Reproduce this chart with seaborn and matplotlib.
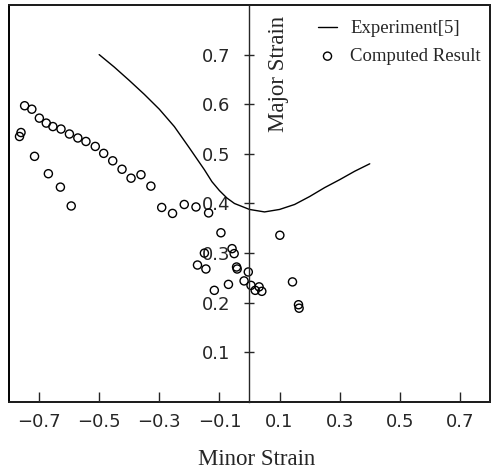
import matplotlib
matplotlib.use("Agg")
import matplotlib.pyplot as plt
import seaborn as sns
import pandas as pd

sns.set_style("ticks")
plt.rcParams["font.family"] = ["DejaVu Sans"]

# experiment curve (reference [5])
exp_minor = [-0.5, -0.45, -0.4, -0.35, -0.3, -0.25, -0.2, -0.15, -0.125, -0.1,
             -0.075, -0.05, 0.0, 0.05, 0.1, 0.15, 0.2, 0.25, 0.3, 0.35, 0.4]
exp_major = [0.700, 0.675, 0.648, 0.620, 0.590, 0.555, 0.512, 0.468, 0.444, 0.426,
             0.411, 0.400, 0.388, 0.383, 0.388, 0.398, 0.414, 0.432, 0.448, 0.465, 0.480]

# computed points
comp_minor = [-0.748, -0.724, -0.699, -0.676, -0.654, -0.627, -0.599, -0.571, -0.544,
              -0.513, -0.485, -0.455, -0.424, -0.394, -0.361, -0.328, -0.292, -0.256,
              -0.217, -0.178, -0.136,
              -0.760, -0.765, -0.715, -0.669, -0.629, -0.593,
              -0.095, 0.101, -0.058, -0.051, -0.150, -0.173, -0.145, -0.043, -0.041,
              -0.004, -0.018, -0.070, -0.117, 0.005, 0.019, 0.032, 0.041, 0.143,
              0.163, 0.165]
comp_major = [0.597, 0.590, 0.572, 0.562, 0.555, 0.550, 0.540, 0.532, 0.525,
              0.515, 0.501, 0.486, 0.469, 0.451, 0.458, 0.435, 0.392, 0.380,
              0.398, 0.393, 0.381,
              0.543, 0.535, 0.495, 0.460, 0.433, 0.395,
              0.341, 0.336, 0.309, 0.299, 0.300, 0.276, 0.268, 0.272, 0.268,
              0.262, 0.244, 0.237, 0.225, 0.235, 0.225, 0.232, 0.223, 0.242,
              0.196, 0.189]

x_ticks = [-0.7, -0.5, -0.3, -0.1, 0.1, 0.3, 0.5, 0.7]
y_ticks = [0.1, 0.2, 0.3, 0.4, 0.5, 0.6, 0.7]

exp_df = pd.DataFrame({"minor": exp_minor, "major": exp_major})
comp_df = pd.DataFrame({"minor": comp_minor, "major": comp_major})

fig = plt.figure(figsize=(4.94, 4.75), dpi=100)
ax = fig.add_axes([0.0182, 0.1537, 0.9737, 0.8358])

sns.lineplot(data=exp_df, x="minor", y="major", color="black", linewidth=1.0,
             label="Experiment[5]", ax=ax)
sns.scatterplot(data=comp_df, x="minor", y="major", marker="o", s=34,
                facecolor="none", edgecolor="black", linewidth=1.0,
                label="Computed Result", ax=ax)

ax.set_xlim(-0.8, 0.8)
ax.set_ylim(0, 0.8)

# frame around the plot plus a y axis through x = 0
for side in ["top", "right", "bottom"]:
    ax.spines[side].set_linewidth(1.1)
ax.spines["left"].set_position(("data", 0))
ax.spines["left"].set_linewidth(1.0)
ax.patch.set_edgecolor("black")
ax.patch.set_linewidth(1.4)

ax.set_xticks(x_ticks)
ax.set_yticks(y_ticks)
ax.set_xticklabels([f"{v:.1f}".replace("-", "\u2212") for v in x_ticks])
ax.set_yticklabels([f"{v:.1f}" for v in y_ticks])
ax.tick_params(axis="x", direction="in", length=7, width=1.0, pad=8, labelsize=13,
               top=False)
ax.tick_params(axis="y", direction="inout", length=7, width=1.0, pad=10, labelsize=13,
               right=False)

ax.set_xlabel("Minor Strain", family="Liberation Serif", fontsize=16.5, va="center")
ax.xaxis.set_label_coords(0.514, -0.146)
ax.set_ylabel("Major Strain", family="Liberation Serif", fontsize=16.5, va="center")
ax.yaxis.set_label_coords(0.56, 0.826)

leg = ax.legend(loc="upper right", bbox_to_anchor=(1.0, 0.985), frameon=False,
                prop={"family": "Liberation Serif", "size": 13.5},
                handlelength=1.0, handletextpad=0.7, labelspacing=0.56,
                borderaxespad=0.1)

fig.savefig("out.png", dpi=100)
